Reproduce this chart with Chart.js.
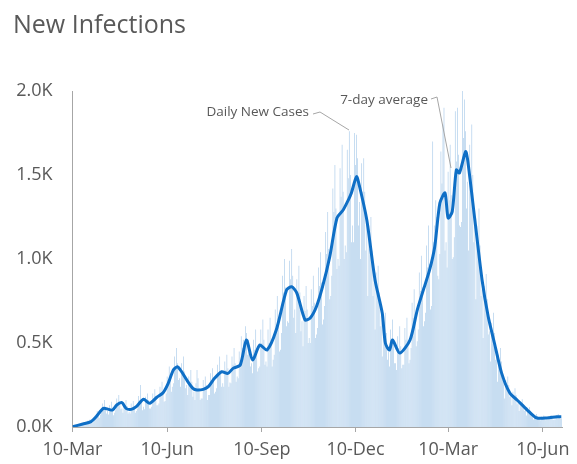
<!DOCTYPE html>
<html>
<head>
<meta charset="utf-8">
<title>New Infections</title>
<script src="https://cdn.jsdelivr.net/npm/chart.js@4.4.0/dist/chart.umd.min.js"></script>
<style>
  html, body { margin: 0; padding: 0; background: #fff; }
  #wrap { width: 577px; height: 464px; position: relative; }
</style>
</head>
<body>
<div id="wrap"><canvas id="infections"></canvas></div>
<script>
// chart data (day 0 = 10-Mar-2020)
const chartTitle = 'New Infections';
const tickDays = [0, 92, 184, 275, 365, 457];
const tickLabels = ['10-Mar', '10-Jun', '10-Sep', '10-Dec', '10-Mar', '10-Jun'];

// daily new cases, one line per week
const dailyCases = [
  0, 0, 1, 2, 3, 4, 5,
  6, 16, 12, 24, 18, 10, 20,
  20, 38, 26, 45, 34, 22, 28,
  40, 70, 62, 95, 80, 55, 75,
  85, 140, 115, 160, 120, 80, 95,
  75, 130, 100, 150, 115, 70, 85,
  100, 170, 140, 190, 150, 105, 110,
  85, 145, 120, 160, 125, 80, 90,
  80, 140, 110, 155, 120, 85, 95,
  110, 185, 140, 250, 160, 100, 120,
  105, 180, 150, 200, 160, 110, 110,
  120, 200, 170, 225, 180, 130, 130,
  140, 240, 200, 270, 210, 150, 155,
  200, 300, 280, 360, 300, 210, 240,
  260, 420, 350, 470, 380, 280, 290,
  240, 380, 320, 420, 330, 230, 250,
  190, 300, 260, 340, 270, 180, 210,
  160, 260, 340, 290, 230, 160, 170,
  170, 280, 240, 300, 250, 160, 190,
  190, 320, 270, 350, 280, 200, 210,
  230, 370, 320, 420, 330, 240, 260,
  240, 390, 340, 430, 350, 240, 265,
  260, 420, 370, 470, 380, 270, 300,
  290, 450, 400, 540, 470, 520, 450,
  600, 560, 430, 520, 450, 360, 380,
  320, 520, 460, 580, 470, 330, 350,
  360, 580, 500, 640, 520, 370, 390,
  360, 580, 500, 650, 510, 360, 400,
  430, 700, 610, 780, 630, 450, 460,
  560, 900, 800, 1000, 830, 600, 630,
  620, 990, 880, 1060, 900, 650, 700,
  560, 880, 780, 960, 800, 570, 630,
  480, 780, 690, 840, 700, 500, 530,
  500, 820, 720, 900, 740, 530, 550,
  590, 950, 840, 1040, 860, 610, 640,
  720, 1160, 1030, 1280, 1060, 760, 780,
  900, 1420, 1280, 1560, 1300, 940, 1000,
  960, 1540, 1370, 1680, 1400, 1000, 1080,
  1040, 1650, 1480, 1760, 1500, 1100, 1200,
  1100, 1750, 1560, 1740, 1600, 1200, 1340,
  1000, 1570, 1400, 1600, 1400, 1050, 1220,
  780, 1200, 1060, 1250, 1050, 780, 880,
  580, 920, 800, 960, 800, 600, 660,
  420, 640, 560, 680, 560, 400, 450,
  360, 580, 500, 640, 520, 380, 380,
  340, 540, 470, 600, 480, 350, 370,
  370, 590, 520, 650, 520, 380, 400,
  470, 740, 650, 820, 670, 480, 510,
  580, 920, 810, 1020, 830, 600, 630,
  680, 1080, 950, 1200, 970, 700, 720,
  1700, 1100, 1200, 1350, 1250, 900, 880,
  1030, 1640, 1450, 1800, 1900, 1050, 1100,
  950, 1520, 1350, 1680, 1380, 1000, 1010,
  1130, 1880, 1580, 1900, 1620, 1200, 1190,
  1220, 2000, 1720, 1950, 1760, 1300, 1460,
  1050, 1680, 1480, 1800, 1500, 1100, 1190,
  760, 1200, 1060, 1300, 1080, 780, 820,
  530, 840, 740, 910, 760, 550, 570,
  390, 620, 550, 680, 560, 400, 440,
  270, 430, 380, 470, 390, 280, 300,
  170, 280, 240, 300, 250, 180, 190,
  130, 210, 185, 230, 190, 135, 145,
  95, 150, 130, 165, 135, 95, 105,
  68, 108, 95, 118, 97, 70, 74,
  45, 72, 63, 78, 65, 47, 50,
  40, 62, 55, 68, 56, 40, 43,
  42, 66, 58, 72, 60, 42, 45,
  45, 72, 63, 78, 65, 47, 50
];

// 7-day average, read at these days
const avgDays = [
  0, 10, 18, 23, 30, 35, 39, 43, 48, 52, 57, 62, 69, 75, 82, 88, 93, 98, 102, 106,
  111, 117, 121, 127, 132, 138, 145, 151, 156, 163, 169, 175, 182, 189, 198, 208, 213, 218, 226, 231,
  237, 243, 250, 257, 263, 268, 271, 276, 279, 286, 294, 301, 304, 308, 311, 318, 328, 335, 340, 347,
  352, 357, 362, 365, 369, 373, 376, 382, 384, 391, 398, 404, 410, 417, 425, 432, 442, 451, 461, 471, 475
];
const avgValues = [
  2, 18, 32, 61, 111, 105, 101, 131, 145, 111, 105, 121, 165, 141, 177, 204, 260, 339, 359, 329,
  280, 230, 220, 224, 240, 290, 329, 319, 349, 369, 518, 399, 488, 458, 577, 815, 835, 797, 637, 649,
  716, 835, 1014, 1244, 1292, 1351, 1393, 1490, 1430, 1232, 875, 678, 500, 458, 518, 440, 518, 696, 797, 935,
  1073, 1333, 1393, 1244, 1282, 1530, 1512, 1639, 1589, 1232, 875, 656, 500, 321, 202, 161, 101, 54, 54, 61, 61
];

const textGray = '#595959';
const axisGray = '#a6a6a6';
const font = '"Open Sans", "DejaVu Sans", sans-serif';

// title and callouts
const overlay = {
  id: 'overlay',
  afterDraw(chart) {
    const ctx = chart.ctx;
    ctx.save();
    ctx.fillStyle = textGray;
    ctx.font = '25px ' + font;
    ctx.textBaseline = 'alphabetic';
    ctx.textAlign = 'left';
    ctx.fillText(chartTitle, 13, 33);

    ctx.font = '13.5px ' + font;
    ctx.textBaseline = 'middle';
    ctx.textAlign = 'right';
    ctx.fillText('Daily New Cases', 309, 112);
    ctx.fillText('7-day average', 428, 100);

    ctx.strokeStyle = axisGray;
    ctx.lineWidth = 1;
    ctx.beginPath();
    ctx.moveTo(313, 114);
    ctx.lineTo(320, 112);
    ctx.lineTo(349, 130);
    ctx.moveTo(431, 99);
    ctx.lineTo(437, 97);
    ctx.lineTo(451, 168);
    ctx.stroke();
    ctx.restore();
  }
};

new Chart(document.getElementById('infections'), {
  type: 'bar',
  data: {
    datasets: [
      {
        type: 'line',
        label: '7-day average',
        data: avgDays.map((d, i) => ({ x: d, y: avgValues[i] })),
        borderColor: '#0f6fc6',
        borderWidth: 3,
        pointRadius: 0,
        tension: 0.25,
        fill: false,
        order: 0
      },
      {
        type: 'bar',
        label: 'Daily New Cases',
        data: dailyCases.map((v, i) => ({ x: i, y: v })),
        backgroundColor: '#b4d1ec',
        borderWidth: 0,
        barPercentage: 0.9,
        categoryPercentage: 0.8,
        order: 1
      }
    ]
  },
  options: {
    responsive: true,
    maintainAspectRatio: false,
    animation: false,
    layout: { padding: { top: 91, right: 14.4, bottom: 0, left: 0 } },
    plugins: {
      legend: { display: false },
      tooltip: { enabled: false }
    },
    scales: {
      x: {
        type: 'linear',
        min: 0,
        max: 476,
        offset: false,
        afterBuildTicks: scale => { scale.ticks = tickDays.map(v => ({ value: v })); },
        afterFit: scale => { scale.height = 37; },
        grid: { display: true, offset: false, drawOnChartArea: false, drawTicks: true, tickLength: 5, color: axisGray },
        border: { display: true, color: axisGray },
        ticks: {
          autoSkip: false,
          maxRotation: 0,
          padding: 7,
          color: textGray,
          font: { family: font, size: 18 },
          callback: (value, index) => tickLabels[index]
        }
      },
      y: {
        min: 0,
        max: 2000,
        afterFit: scale => { scale.width = 72.5; },
        grid: { display: false, drawTicks: false },
        border: { display: true, color: axisGray },
        ticks: {
          stepSize: 500,
          padding: 20,
          color: textGray,
          font: { family: font, size: 18 },
          callback: v => (v / 1000).toFixed(1) + 'K'
        }
      }
    }
  },
  plugins: [overlay]
});
</script>
</body>
</html>
